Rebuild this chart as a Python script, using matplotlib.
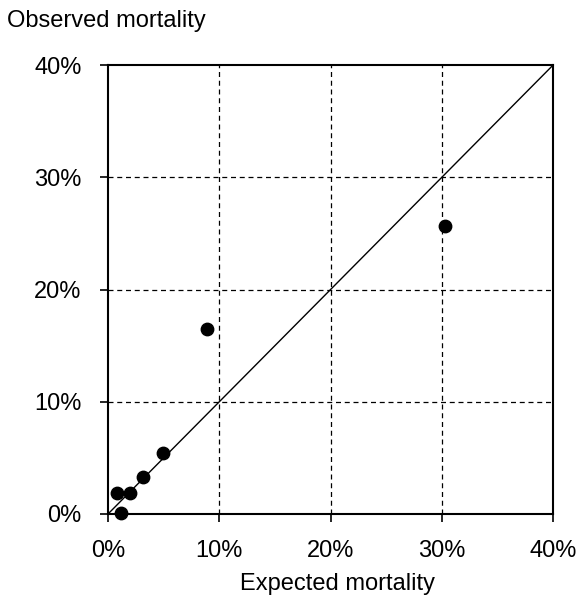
import matplotlib.pyplot as plt
from matplotlib.ticker import FuncFormatter

# expected vs observed mortality (%)
expected = [0.8, 1.2, 2.0, 3.1, 4.9, 8.9, 30.3]
observed = [1.9, 0.1, 1.9, 3.3, 5.4, 16.5, 25.7]
ticks = [0, 10, 20, 30, 40]

plt.rcParams['font.family'] = ['Liberation Sans', 'DejaVu Sans']

fig = plt.figure(figsize=(5.88, 5.96), dpi=100)
ax = fig.add_axes([0.1837, 0.1376, 0.757, 0.7533])

for t in ticks[1:-1]:
    ax.axvline(t, color='black', ls=(0, (4, 3)), lw=0.9, zorder=1)
    ax.axhline(t, color='black', ls=(0, (4, 3)), lw=0.9, zorder=1)

ax.plot([0, 40], [0, 40], color='black', lw=1, zorder=2)
ax.scatter(expected, observed, s=80, color='black', zorder=3, clip_on=False)

ax.set_xlim(0, 40)
ax.set_ylim(0, 40)
ax.set_xticks(ticks)
ax.set_yticks(ticks)
pct = FuncFormatter(lambda v, p: f'{v:.0f}%')
ax.xaxis.set_major_formatter(pct)
ax.yaxis.set_major_formatter(pct)
ax.tick_params(labelsize=17, length=6, width=1.2, direction='out', pad=13)
for s in ax.spines.values():
    s.set_linewidth(1.5)

fig.text(337 / 588, 1 - 590 / 596, 'Expected mortality', fontsize=17,
         ha='center', va='baseline')
fig.text(7 / 588, 1 - 27 / 596, 'Observed mortality', fontsize=17,
         ha='left', va='baseline')

fig.savefig('out.png', dpi=100)
